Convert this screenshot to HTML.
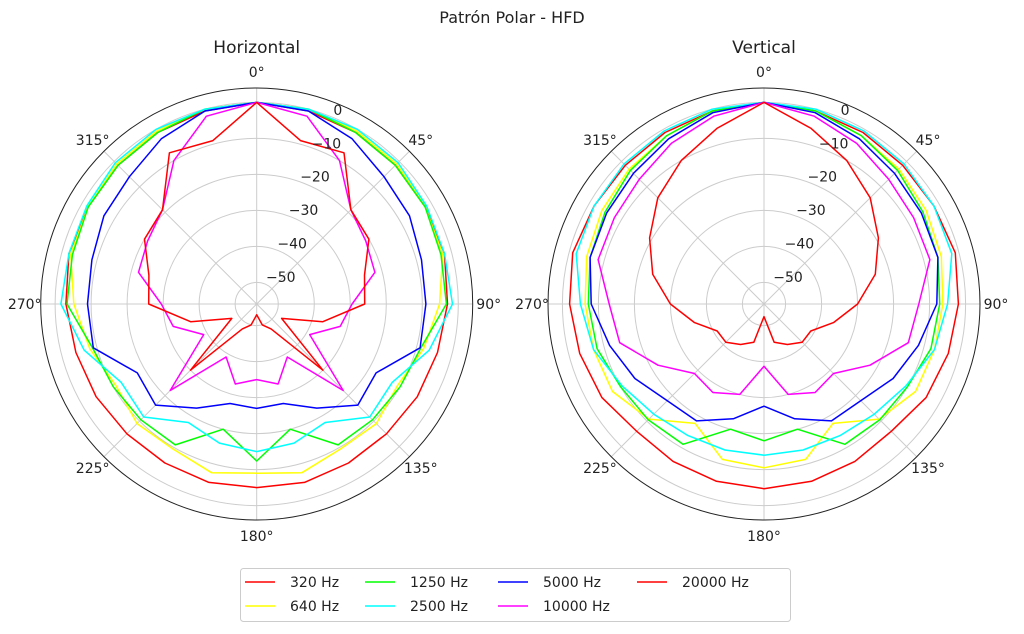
<!DOCTYPE html>
<html><head><meta charset="utf-8"><style>
html,body{margin:0;padding:0;background:#fff;}
svg{display:block;font-family:"DejaVu Sans","Liberation Sans",sans-serif;}
</style></head><body>
<svg id="chart" width="1024" height="634" viewBox="0 0 1024 634">
<text x="512" y="23" text-anchor="middle" font-size="16" fill="#222">Patrón Polar - HFD</text>
<g id="legend"></g>
</svg>
<script>
const angles = [0,15,30,45,60,75,90,105,120,135,150,165,180,195,210,225,240,255,270,285,300,315,330,345];
const seriesNames = ["320 Hz","640 Hz","1250 Hz","2500 Hz","5000 Hz","10000 Hz","20000 Hz"];
const seriesColors = ["#ff0000","#ffff00","#00ff00","#00ffff","#0000ff","#ff00ff","#ff0000"];
const radialTicks = [0,-10,-20,-30,-40,-50];
const angleTicks = [0,45,90,135,180,225,270,315];

const hor320 = [0,-0.5,-1,-1.5,-2,-2,-3,-4,-4.5,-5,-5,-4.7,-5,-4.7,-5,-5,-4.5,-4,-3,-2,-2,-1.5,-1,-0.5];
const hor640 = [0,0,-0.5,-1,-2,-2.5,-5.2,-8,-10.8,-9,-9.5,-7.5,-9,-7.5,-9.5,-9,-10.8,-8,-5.2,-2.5,-2,-1,-0.5,0];
const hor1250 = [0,0,-1,-1.5,-2,-3,-3.3,-8.8,-10,-10.5,-10.8,-20,-12.4,-20,-10.8,-10.5,-10,-8.8,-3.3,-3,-2,-1.5,-1,0];
const hor2500 = [0,0,0,-0.5,-1.5,-2,-1.6,-6.4,-12.5,-11.6,-18,-16,-15,-16,-18,-11.6,-12.5,-6.4,-1.6,-2,-1.5,-0.5,0,0];
const hor5000 = [0,-0.5,-3,-6,-7,-8.6,-9,-9,-17.7,-16.3,-22.6,-27.4,-27,-27.4,-22.6,-16.3,-17.7,-9,-9,-8.6,-7,-6,-3,-0.5];
const hor10000 = [0,-2,-10,-19,-21,-22,-29.5,-32,-39,-22,-39,-33,-35,-33,-39,-22,-39,-32,-29.5,-22,-21,-19,-10,-2];
const hor20000 = [0,-9,-7.5,-19,-20,-25,-26,-37,-48,-30,-48,-50,-53,-50,-48,-30,-48,-37,-26,-25,-20,-19,-7.5,-9];

const ver320 = [0,-0.5,-1,-1.5,-1.5,-1,-2,-3,-4,-6,-5.5,-5,-4.7,-5,-5.5,-6,-4,-3,-2,-1,-1.5,-1.5,-1,-0.5];
const ver640 = [0,-0.5,-2,-3,-4,-5,-6.3,-7,-7.4,-10.8,-17.7,-11.3,-10.5,-11.3,-17.7,-10.8,-7.4,-7,-6.3,-5,-4,-3,-2,-0.5];
const ver1250 = [0,-0.5,-2,-3.5,-5,-6,-7.2,-8,-10,-10.5,-11,-20,-18,-20,-11,-10.5,-10,-8,-7.2,-6,-5,-3.5,-2,-0.5];
const ver2500 = [0,0,-0.5,-1,-1.5,-2,-5,-7,-10.5,-12.7,-13.8,-14,-14,-14,-13.8,-12.7,-10.5,-7,-5,-2,-1.5,-1,-0.5,0];
const ver5000 = [0,-1,-3,-4.7,-5.5,-6,-8,-11.6,-14.6,-18,-18.5,-23,-27.6,-23,-18.5,-18,-14.6,-11.6,-8,-6,-5.5,-4.7,-3,-1];
const ver10000 = [0,-2,-4.5,-7,-8,-8.3,-13,-14.5,-22,-28.7,-27.6,-30,-38.7,-30,-27.6,-28.7,-22,-14.5,-13,-8.3,-8,-7,-4.5,-2];
const ver20000 = [0,-5.5,-10,-14.3,-19.3,-24,-30,-36,-41,-41,-43,-45,-52.5,-45,-43,-41,-41,-36,-30,-24,-19.3,-14.3,-10,-5.5];

const NS = "http://www.w3.org/2000/svg";
const svg = document.getElementById("chart");
const R_MIN = -56, R_MAX = 4, R_OUT = 216;
function rScale(db){ return (db - R_MIN) / (R_MAX - R_MIN) * R_OUT; }
function pt(cx, cy, deg, r){ const a = deg*Math.PI/180; return [cx + r*Math.sin(a), cy - r*Math.cos(a)]; }
function mk(tag, attrs, parent){ const e = document.createElementNS(NS, tag); for (const k in attrs) e.setAttribute(k, attrs[k]); parent.appendChild(e); return e; }

function panel(cx, cy, title, data, key){
  const g = mk("g", {}, svg);
  
  
  radialTicks.forEach(v => {
    const c = mk("circle", {cx:cx, cy:cy, r:rScale(v), fill:"none", stroke:"#cccccc", "stroke-width":1}, g);
    
    
  });
  angleTicks.forEach(a => {
    const [x, y] = pt(cx, cy, a, R_OUT);
    const l = mk("line", {x1:cx, y1:cy, x2:x, y2:y, stroke:"#cccccc", "stroke-width":1}, g);
    
    
  });
  data.forEach((vals, i) => {
    const pts = vals.map((v, j) => pt(cx, cy, angles[j], rScale(v)).map(n => n.toFixed(1)).join(",")).join(" ");
    const p = mk("polygon", {points:pts, fill:"none", stroke:seriesColors[i], "stroke-width":1.5, "stroke-linejoin":"round"}, g);
    
    
  });
  const oc = mk("circle", {cx:cx, cy:cy, r:R_OUT, fill:"none", stroke:"#222", "stroke-width":1}, g);
  
  
  angleTicks.forEach(a => {
    const [x, y] = pt(cx, cy, a, 232);
    const t = mk("text", {x:x, y:y+5, "text-anchor":"middle", "font-size":14, fill:"#222"}, g);
    t.textContent = a + "°";
    
    
  });
  radialTicks.forEach(v => {
    const r = rScale(v);
    const t = mk("text", {x:cx + 17.2 + r*0.317, y:cy - r*0.928 - 7 + 5, "text-anchor":"middle", "font-size":14, fill:"#222"}, g);
    t.textContent = v === 0 ? "0" : "\u2212" + Math.abs(v);
    
    
  });
  const tt = mk("text", {x:cx, y:53, "text-anchor":"middle", "font-size":17, fill:"#222"}, g);
  tt.textContent = title;
  
  
}
panel(256.7, 304, "Horizontal", [hor320,hor640,hor1250,hor2500,hor5000,hor10000,hor20000], "horizontal");
panel(764, 304, "Vertical", [ver320,ver640,ver1250,ver2500,ver5000,ver10000,ver20000], "vertical");

const lg = document.getElementById("legend");
const box = mk("rect", {x:240.5, y:568.5, width:550, height:53, rx:3, fill:"#fff", stroke:"#cccccc"}, lg);


const colX = [245, 365, 498, 637];
seriesNames.forEach((n, i) => {
  const col = Math.floor(i/2), row = i%2;
  const y = 582 + row*24;
  const l = mk("line", {x1:colX[col], y1:y, x2:colX[col]+30, y2:y, stroke:seriesColors[i], "stroke-width":1.5}, lg);
  
  
  const t = mk("text", {x:colX[col]+45, y:y+5, "font-size":14, fill:"#222"}, lg);
  t.textContent = n;
  
  
});
</script>
</body></html>
